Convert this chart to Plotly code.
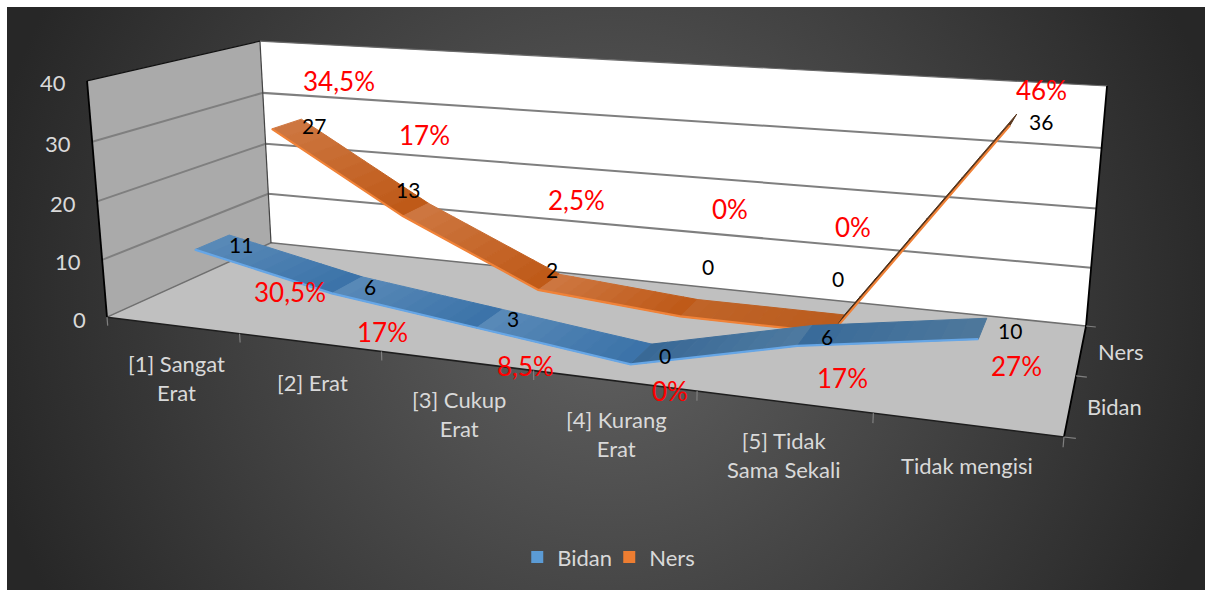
import base64
import numpy as np
import plotly.graph_objects as go

# ---- data ----
categories = ["[1] Sangat<br>Erat", "[2] Erat", "[3] Cukup<br>Erat", "[4] Kurang<br>Erat", "[5] Tidak<br>Sama Sekali", "Tidak mengisi"]
series_names = ["Bidan", "Ners"]
bidan = [11, 6, 3, 0, 6, 10]
ners = [27, 13, 2, 0, 0, 36]
bidan_pct = ["30,5%", "17%", "8,5%", "0%", "17%", "27%"]
ners_pct = ["34,5%", "17%", "2,5%", "0%", "0%", "46%"]
value_ticks = [0, 10, 20, 30, 40]

# free-floating red notes (screen px)
bidan_pct_x = [290, 382, 525, 670, 842, 1016]
bidan_pct_y = [292, 332, 366, 391, 378, 366]
ners_pct_x = [339, 424, 576, 730, 853, 1041]
ners_pct_y = [81, 135, 200, 209, 227, 90]
# hand-placed data label offsets from the point (px)
bidan_lab_dx = [29, 23, 23, 24, 22, 27]
bidan_lab_dy = [2, 2, 0, 1, 1, 2]
ners_lab_dx = [27, -8, 3, 19, 0, 28]
ners_lab_dy = [2, -20, -13, -41, -45, 2]
cat_lab_dx = [4, 3, 3, 3, 0, 0]
cat_lab_dy = [53, 40, 53, 53, 53, 41]

VMAX = 40.0
W, H = 1205, 593

# ---- camera: recovers Excel's 3-D view from the plot-box corners ----
box_corners = [((0, 0, 0), (107, 317)), ((1, 0, 0), (1064, 437)), ((1, 1, 0), (1086, 326)), ((0, 1, 0), (271, 243)),
               ((0, 0, 1), (87, 81)), ((0, 1, 1), (260, 41)), ((1, 1, 1), (1107, 86))]
rows = []
for (a, b, c), (px, py) in box_corners:
    rows.append([a, b, c, 1, 0, 0, 0, 0, -px * a, -px * b, -px * c, -px])
    rows.append([0, 0, 0, 0, a, b, c, 1, -py * a, -py * b, -py * c, -py])
CAM = np.linalg.svd(np.array(rows, float))[2][-1].reshape(3, 4)


def proj(cat, depth, val):
    """cat in 0..6 (category slots), depth in 0..2 (series slots), val in value units."""
    h = CAM @ np.array([cat / 6.0, depth / 2.0, val / VMAX, 1.0])
    return float(h[0] / h[2]), float(h[1] / h[2])


fig = go.Figure()


def poly(pts, fill, line=None, lw=0):
    xs, ys = zip(*pts)
    fig.add_trace(go.Scatter(x=list(xs) + [xs[0]], y=list(ys) + [ys[0]], mode="lines", fill="toself", fillcolor=fill,
                             line=dict(color=line or fill, width=lw), hoverinfo="skip", showlegend=False))


def seg(pts, color, lw):
    xs, ys = zip(*pts)
    fig.add_trace(go.Scatter(x=list(xs), y=list(ys), mode="lines", line=dict(color=color, width=lw),
                             hoverinfo="skip", showlegend=False))


def mix(c1, c2, t):
    c = [round(a + (b - a) * t) for a, b in zip(c1, c2)]
    return f"rgb({c[0]},{c[1]},{c[2]})"


# walls
poly([proj(0, 0, 0), proj(0, 2, 0), proj(0, 2, VMAX), proj(0, 0, VMAX)], "#aaaaaa")
poly([proj(0, 2, 0), proj(6, 2, 0), proj(6, 2, VMAX), proj(0, 2, VMAX)], "#ffffff")
poly([proj(0, 0, 0), proj(6, 0, 0), proj(6, 2, 0), proj(0, 2, 0)], "#c0c0c0")

# gridlines
for t in value_ticks[1:-1]:
    seg([proj(0, 0, t), proj(0, 2, t), proj(6, 2, t)], "#7f7f7f", 2)
seg([proj(0, 0, 0), proj(0, 2, 0), proj(6, 2, 0)], "#707070", 1.5)
seg([proj(0, 2, 0), proj(0, 2, VMAX)], "#444444", 1.2)
seg([proj(0, 0, VMAX), proj(0, 2, VMAX)], "#111111", 1.2)
seg([proj(0, 2, VMAX), proj(6, 2, VMAX)], "#6a6a6a", 1.2)
seg([proj(0, 0, 0), proj(0, 0, VMAX)], "#000000", 1.8)
seg([proj(6, 2, VMAX), proj(6, 2, 0), proj(6, 0, 0)], "#000000", 1.8)
seg([proj(0, 0, 0), proj(6, 0, 0)], "#1e1e1e", 1.5)

# tick marks
for c in range(7):
    seg([proj(c, 0, 0), proj(c, 0, -1.5)], "#808080", 1.2)
for d in range(3):
    seg([proj(6, d, 0), proj(6.06, d, 0)], "#808080", 1.2)

HALF = 0.2
STEPS = 10
SHADES = {
    "Bidan": [((90, 138, 184), (58, 114, 168))] * 3 + [((56, 104, 150), (78, 122, 160)), ((56, 106, 154), (78, 120, 155))],
    "Ners": [((206, 120, 66), (190, 88, 22))] * 3 + [((192, 100, 40), (186, 92, 30)), ((70, 42, 20), (90, 56, 30))],
}
EDGE = {"Bidan": "#66a6e6", "Ners": "#f08238"}
for name, vals, d in (("Ners", ners, 1.5), ("Bidan", bidan, 0.5)):
    for i in range(len(vals) - 1):
        c1, c2 = SHADES[name][i]
        for s in range(STEPS):
            t0, t1 = s / STEPS, (s + 1) / STEPS
            ca, cb = i + .5 + t0, i + .5 + t1
            va, vb = vals[i] + (vals[i + 1] - vals[i]) * t0, vals[i] + (vals[i + 1] - vals[i]) * t1
            poly([proj(ca, d - HALF, va), proj(cb, d - HALF, vb), proj(cb, d + HALF, vb), proj(ca, d + HALF, va)],
                 mix(c1, c2, (s + .5) / STEPS), lw=1)
    seg([proj(i + .5, d - HALF, v) for i, v in enumerate(vals)], EDGE[name], 2.2)

# legend
for name, col in (("Bidan", "#5b9bd5"), ("Ners", "#ed7d31")):
    fig.add_trace(go.Scatter(x=[None], y=[None], mode="markers", name=name,
                             marker=dict(symbol="square", size=15, color=col)))

ann = []
FONT = "Lato, Carlito, Calibri, sans-serif"


def note(x, y, text, size, color, **kw):
    ann.append(dict(x=x, y=y, xref="x", yref="y", text=text, showarrow=False, align="center",
                    font=dict(family=FONT, size=size, color=color), **kw))


# value data labels
for vals, d, dxs, dys in ((bidan, .5, bidan_lab_dx, bidan_lab_dy), (ners, 1.5, ners_lab_dx, ners_lab_dy)):
    for i, v in enumerate(vals):
        x, y = proj(i + .5, d, v)
        note(x + dxs[i], y + dys[i], str(v), 21, "#000000")

# axis labels
for t in value_ticks:
    x, y = proj(0, 0, t)
    note(x - 19, y + 2, str(t), 22, "#d9d9d9", xanchor="right")
for i, c in enumerate(categories):
    x, y = proj(i + .5, 0, 0)
    note(x + cat_lab_dx[i], y + cat_lab_dy[i], c, 22, "#d9d9d9")
for d, name in zip((0.5, 1.5), series_names):
    x, y = proj(6, d, 0)
    note(x + 15, y + 2, name, 22, "#d9d9d9", xanchor="left")

# red notes
for xs, ys, texts in ((bidan_pct_x, bidan_pct_y, bidan_pct), (ners_pct_x, ners_pct_y, ners_pct)):
    for x, y, t in zip(xs, ys, texts):
        note(x, y, t, 26, "#ff0000")

svg = (f'<svg xmlns="http://www.w3.org/2000/svg" width="{W}" height="{H}">'
       '<defs><radialGradient id="g" gradientUnits="userSpaceOnUse" cx="605" cy="298" r="640">'
       '<stop offset="0%" stop-color="#626262"/><stop offset="100%" stop-color="#272727"/></radialGradient></defs>'
       f'<rect width="{W}" height="{H}" fill="url(#g)"/></svg>')
uri = "data:image/svg+xml;base64," + base64.b64encode(svg.encode()).decode()

fig.update_layout(
    width=W, height=H, margin=dict(l=0, r=0, t=0, b=0), paper_bgcolor="#ffffff", plot_bgcolor="rgba(0,0,0,0)",
    xaxis=dict(range=[0, W], visible=False, fixedrange=True),
    yaxis=dict(range=[H, 0], visible=False, fixedrange=True),
    images=[dict(source=uri, xref="x", yref="y", x=7, y=7, sizex=W - 7, sizey=H - 10, xanchor="left", yanchor="top",
                 sizing="stretch", layer="below")],
    annotations=ann,
    showlegend=True,
    legend=dict(orientation="h", x=0.5056, y=0.025, xanchor="center", yanchor="bottom", bgcolor="rgba(0,0,0,0)",
                font=dict(family=FONT, size=22, color="#d9d9d9"), itemsizing="constant",
                entrywidth=47, entrywidthmode="pixels"),
)
fig.write_html("out.html", config=dict(displayModeBar=False),
               post_script="document.body.style.margin='0';document.body.style.overflow='hidden';")
